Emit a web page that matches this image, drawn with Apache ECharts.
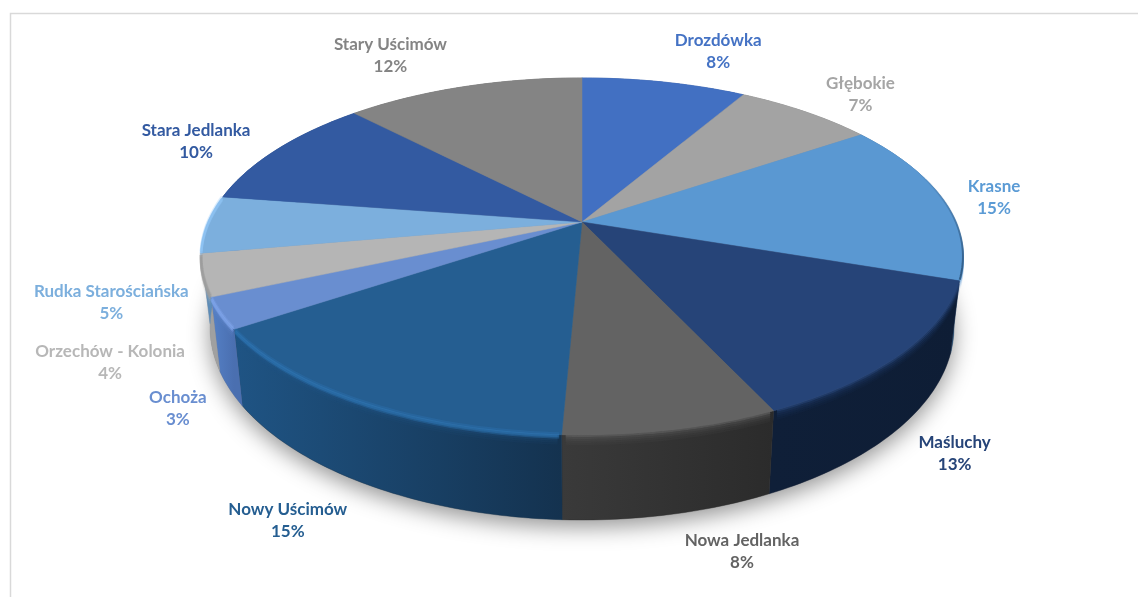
<!DOCTYPE html>
<html>
<head>
<meta charset="utf-8">
<style>html,body{margin:0;padding:0;background:#fff}#c{width:1138px;height:597px}</style>
<script src="https://cdn.jsdelivr.net/npm/echarts@6/dist/echarts.min.js"></script>
</head>
<body>
<div id="c"></div>
<script>
const categories = ['Drozdówka','Głębokie','Krasne','Maśluchy','Nowa Jedlanka','Nowy Uścimów','Ochoża','Orzechów - Kolonia','Rudka Starościańska','Stara Jedlanka','Stary Uścimów'];
const shares = [8.4,7.1,14.7,12.85,7.65,14.9,2.8,3.8,5.2,10.4,12.2];

const topColors  = ['#4270c2','#a3a3a3','#5a98d2','#264478','#636363','#255e91','#698ed0','#b5b5b5','#7cafdd','#335aa1','#848484'];
const wallLeft   = ['#2f5090','#7a7a7a','#3c6c98','#0f1f38','#3a3a3a','#1f5484','#5580c6','#a8a8a8','#5c8cb8','#24407a','#5e5e5e'];
const wallRight  = ['#2f5090','#7a7a7a','#2d5478','#0e1d35','#2b2b2b','#14324f','#4a6fb0','#a0a0a0','#5c8cb8','#24407a','#5e5e5e'];
const labelColors= ['#4472c4','#a5a5a5','#5b9bd5','#264478','#636363','#255e91','#698ed0','#b7b7b7','#7cafdd','#335aa1','#848484'];
const rimLights  = [null,null,'krasne',null,null,'#2f78b8','#84aaf0','#979797','#93c8f8',null,null];
const labelOffsets = [[54,-31],[55,-17],[51,-2],[53,100],[70,122],[-74,118],[-43,95],[-93,88],[-96,78],[-81,-8],[-73,-31]];

// perspective disc layout
const CX = 582, TOP_Y = 222, BOT_Y = 290, A_TOP = 373.8, B_TOP = 171.9, A_BOT = 365, B_BOT = 185.6, K = 0.193;
const total = shares.reduce((a, b) => a + b, 0);
const startOf = shares.map((_, i) => shares.slice(0, i).reduce((a, b) => a + b, 0));

function project(deg, face) {
  const t = deg * Math.PI / 180, u = Math.sin(t), v = -Math.cos(t), w = 1 - K * v;
  return face === 'top'
    ? [CX + A_TOP * u / w, TOP_Y + B_TOP * v / w]
    : [CX + A_BOT * u / w, BOT_Y + B_BOT * v / w];
}
function arc(a, b, face, dy) {
  const n = Math.max(2, Math.ceil(Math.abs(b - a))), pts = [];
  for (let i = 0; i <= n; i++) {
    const p = project(a + (b - a) * i / n, face);
    pts.push([p[0], p[1] + (dy || 0)]);
  }
  return pts;
}

function renderItem(params, api) {
  const i = params.dataIndex, val = api.value(0);
  const a = startOf[i] / total * 360, b = (startOf[i] + val) / total * 360;
  const rimTop = arc(a, b, 'top'), rimBot = arc(a, b, 'bot');
  const kids = [];
  const xs = rimTop.map(p => p[0]);
  const xMin = Math.min.apply(null, xs), xMax = Math.max.apply(null, xs) + 0.01;

  // wall
  kids.push({
    type: 'polygon', z2: 2, silent: true,
    shape: { points: rimTop.concat(rimBot.slice().reverse()) },
    style: {
      fill: { type: 'linear', global: true, x: xMin, y: 0, x2: xMax, y2: 0,
        colorStops: [{ offset: 0, color: wallLeft[i] }, { offset: 1, color: wallRight[i] }] },
      stroke: wallRight[i], lineWidth: 0.4
    }
  });
  // soft bevel transition below the rim
  [[9, 2, 0.08], [7, 2, 0.14], [5, 2, 0.24], [3, 2, 0.38], [1, 2, 0.7]].forEach(function (s) {
    kids.push({
      type: 'polyline', z2: 3, silent: true,
      shape: { points: arc(a + 0.5, b - 0.5, 'top', s[0]) },
      style: { fill: null, stroke: topColors[i], lineWidth: s[1], opacity: s[2] }
    });
  });
  // top face
  kids.push({
    type: 'polygon', z2: 4, silent: true,
    shape: { points: [[CX, TOP_Y]].concat(rimTop) },
    style: { fill: topColors[i], stroke: topColors[i], lineWidth: 0.5 }
  });
  // rim light
  if (rimLights[i]) {
    const krasne = rimLights[i] === 'krasne';
    const stroke = krasne
      ? { type: 'linear', global: true, x: 0, y: 170, x2: 0, y2: 270,
          colorStops: [{ offset: 0, color: 'rgba(40,80,120,0)' }, { offset: 1, color: 'rgba(40,80,120,0.95)' }] }
      : rimLights[i];
    (krasne ? [[0, 2, 0.85]] : [[-1, 3, 0.3], [1, 3, 0.55], [3, 2, 0.3]]).forEach(function (s) {
      kids.push({
        type: 'polyline', z2: 5, silent: true,
        shape: { points: arc(a + 0.3, b - 0.3, 'top', s[0]) },
        style: { fill: null, stroke: stroke, lineWidth: s[1], opacity: s[2] }
      });
    });
  }
  // labels
  const mid = project((a + b) / 2, 'top');
  const lx = mid[0] + labelOffsets[i][0], ly = mid[1] + labelOffsets[i][1];
  const font = 'bold 17px Lato, Carlito, sans-serif';
  [[categories[i], -11], [Math.round(val / total * 100) + '%', 11]].forEach(function (t) {
    kids.push({
      type: 'text', z2: 10, silent: true,
      style: { x: lx, y: ly + t[1], text: t[0], font: font, fill: labelColors[i], align: 'center', verticalAlign: 'middle' }
    });
  });
  return { type: 'group', children: kids };
}

const chart = echarts.init(document.getElementById('c'), null, { renderer: 'canvas' });
chart.setOption({
  animation: false,
  backgroundColor: '#fff',
  tooltip: { show: false },
  graphic: [
    { type: 'rect', z: -1, silent: true, shape: { x: 10.5, y: 13.5, width: 1400, height: 900 },
      style: { fill: '#fff', stroke: '#d9d9d9', lineWidth: 1.5 } },
    { type: 'polygon', z: 0, silent: true,
      shape: { points: arc(0, 360, 'bot') },
      style: { fill: '#888', shadowBlur: 22, shadowColor: 'rgba(0,0,0,0.42)', shadowOffsetX: 0, shadowOffsetY: 7 } }
  ],
  series: [{
    type: 'custom',
    coordinateSystem: 'none',
    z: 5,
    renderItem: renderItem,
    data: shares.map((v, i) => ({ name: categories[i], value: [v] }))
  }]
});
</script>
</body>
</html>
